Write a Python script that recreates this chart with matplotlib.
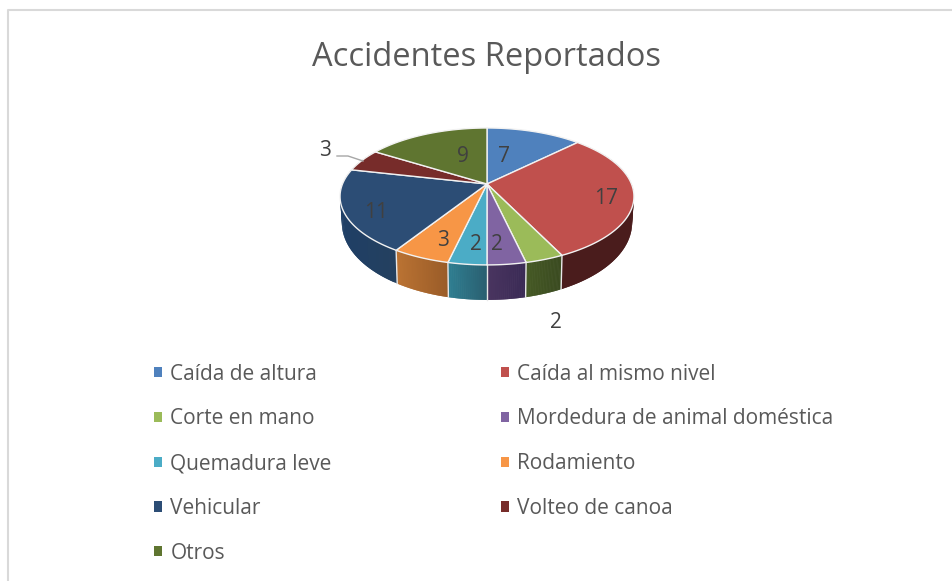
import numpy as np
import matplotlib
matplotlib.use('Agg')
import matplotlib.pyplot as plt
from matplotlib.colors import to_rgb
from matplotlib.patches import Patch

plt.rcParams['font.family'] = ['Open Sans', 'DejaVu Sans']

categories = ['Caída de altura', 'Caída al mismo nivel', 'Corte en mano',
              'Mordedura de animal doméstica', 'Quemadura leve', 'Rodamiento',
              'Vehicular', 'Volteo de canoa', 'Otros']
values = [7, 17, 2, 2, 2, 3, 11, 3, 9]
colors = ['#4f81bd', '#c0504d', '#9bbb59', '#8064a2', '#4bacc6',
          '#f79646', '#2c4d75', '#772c2a', '#5f7530']
side_left = ['#2c4d75', '#4a1c1c', '#465a25', '#4a3560', '#2f7f92',
             '#bb7333', '#1f3f66', '#4a1c1c', '#3a4a20']
side_right = ['#2c4d75', '#4a1c1c', '#3a4a20', '#3a2a55', '#2a5f70',
              '#9a5c28', '#24405f', '#4a1c1c', '#3a4a20']

# pie geometry in pixels, k gives the perspective of the tilted disc
cx, cy = 487, 184
rx, ry = 144.5, 66.2
k = 0.182


def project(theta):
    u, v = np.sin(theta), np.cos(theta)
    w = 1 + k * v
    return cx + rx * u / w, cy - ry * v / w


def project_bottom(theta):
    # lower rim: a bit narrower, wall gets taller towards the viewer
    x, y = project(theta)
    return cx + (x - cx) * 0.988, y + 24 - 11 * np.cos(theta)


fig = plt.figure(figsize=(9.53, 5.81), dpi=100)
ax = fig.add_axes([0, 0, 1, 1])
ax.set_xlim(0, 953)
ax.set_ylim(581, 0)
ax.axis('off')

# chart frame
ax.plot([8, 8, 953], [581, 10, 10], color='#d9d9d9', lw=1.5)

edges = np.cumsum([0] + values) / sum(values) * 2 * np.pi

# side wall first, only the front half can be seen
for i in range(len(values)):
    t = np.linspace(edges[i], edges[i + 1], 60)
    x, y = project(t)
    bx, by = project_bottom(t)
    c1, c2 = np.array(to_rgb(side_left[i])), np.array(to_rgb(side_right[i]))
    for j in range(len(t) - 1):
        if np.cos(t[j]) > 0.5 and np.cos(t[j + 1]) > 0.5:
            continue
        f = (x[j] - x.min()) / max(x.max() - x.min(), 1)
        col = c1 + (c2 - c1) * f
        # strips overlap the next one so no seams show
        n = min(j + 2, len(t) - 1)
        ax.fill([x[j], x[n], bx[n], bx[j]], [y[j], y[n], by[n], by[j]],
                facecolor=col, edgecolor='none', zorder=2)
    if np.cos(edges[i]) < 0:
        ex, ey = project(edges[i])
        fx, fy = project_bottom(edges[i])
        ax.plot([ex, fx], [ey, fy], color='#e8e8e8', lw=1, zorder=3)

# top surface
for i in range(len(values)):
    t = np.linspace(edges[i], edges[i + 1], 80)
    x, y = project(t)
    ax.fill(np.r_[cx, x], np.r_[cy, y], facecolor=colors[i],
            edgecolor='#f2f2f2', lw=1, joinstyle='round', zorder=4)

# data labels, placed by hand like in the original
label_pos = [(504, 156), (606, 199), (556, 322), (497, 245), (476, 245),
             (443, 240), (376, 213), (325, 150), (463, 156)]
for val, (lx, ly) in zip(values, label_pos):
    ax.text(lx, ly, str(val), ha='center', va='center', fontsize=15,
            color='#404040', zorder=6)
ax.plot([337, 348, 363], [156, 156, 161], color='#a6a6a6', lw=1, zorder=5)

ax.text(487, 57, 'Accidentes Reportados', ha='center', va='center',
        fontsize=23.5, color='#595959')

# legend is filled column by column
order = [0, 2, 4, 6, 8, 1, 3, 5, 7]
handles = [Patch(facecolor=colors[i], label=categories[i]) for i in order]
ax.legend(handles=handles, ncols=2, frameon=False, loc='upper left',
          bbox_to_anchor=(154 / 953, 1 - 363.5 / 581), fontsize=15.05,
          labelcolor='#595959', handlelength=0.38, handleheight=0.38,
          handletextpad=0.4, labelspacing=1.14, columnspacing=8.1,
          borderpad=0, borderaxespad=0)

fig.savefig('out.png', dpi=100)
